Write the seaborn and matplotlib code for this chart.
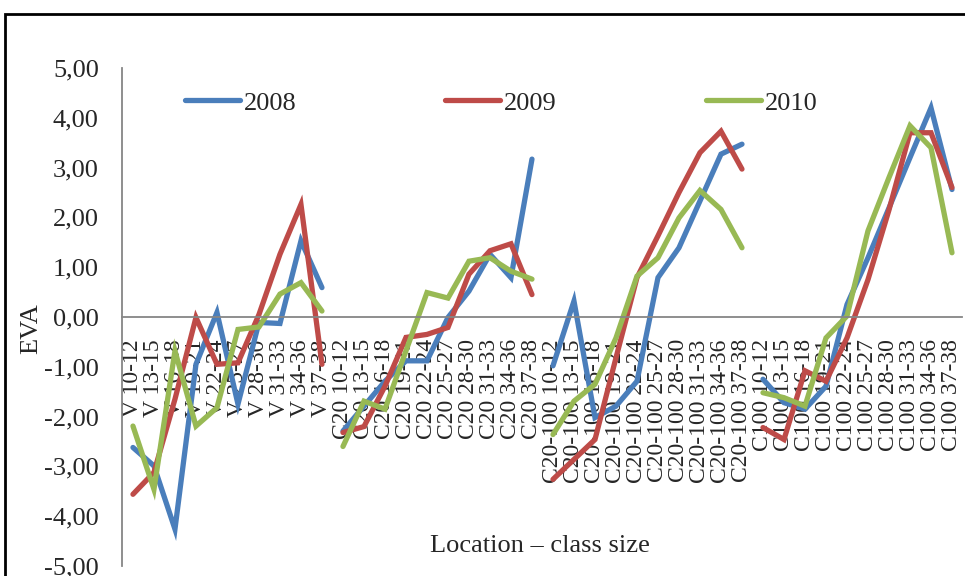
import numpy as np
import pandas as pd
import matplotlib
matplotlib.use("Agg")
import matplotlib.pyplot as plt
from matplotlib.patches import Rectangle
from matplotlib.ticker import FuncFormatter, MultipleLocator
import seaborn as sns

# categories: location x class size
locations = ["V", "C20", "C20-100", "C100"]
class_sizes = ["10-12", "13-15", "16-18", "19-21", "22-24",
               "25-27", "28-30", "31-33", "34-36", "37-38"]
years = ["2008", "2009", "2010"]

# EVA values (one row per location)
eva_2008 = [-2.62, -2.99, -4.26, -0.95, 0.09, -1.75, -0.11, -0.13, 1.53, 0.59,
            -2.29, -1.79, -1.29, -0.88, -0.88, -0.01, 0.52, 1.26, 0.79, 3.17,
            -0.98, 0.32, -2.02, -1.79, -1.29, 0.79, 1.39, 2.33, 3.27, 3.47,
            -1.25, -1.72, -1.85, -1.39, 0.25, 1.19, 2.19, 3.20, 4.20, 2.56]
eva_2009 = [-3.56, -3.12, -1.65, -0.01, -0.95, -0.92, 0.05, 1.26, 2.26, -0.95,
            -2.32, -2.20, -1.39, -0.41, -0.35, -0.21, 0.86, 1.33, 1.47, 0.45,
            -3.26, -2.86, -2.46, -0.82, 0.79, 1.63, 2.50, 3.30, 3.73, 2.97,
            -2.22, -2.46, -1.08, -1.29, -0.42, 0.75, 2.15, 3.70, 3.70, 2.60]
eva_2010 = [-2.19, -3.46, -0.68, -2.19, -1.82, -0.25, -0.20, 0.46, 0.69, 0.12,
            -2.60, -1.69, -1.85, -0.68, 0.49, 0.38, 1.12, 1.19, 0.92, 0.76,
            -2.36, -1.69, -1.35, -0.42, 0.82, 1.19, 1.99, 2.54, 2.16, 1.39,
            -1.52, -1.62, -1.79, -0.42, 0.02, 1.73, 2.80, 3.84, 3.40, 1.29]

colors = ["#4A7EBB", "#BE4B48", "#98B954"]

tick_labels = [f"{loc} {cs}" for loc in locations for cs in class_sizes]

rows = []
for year, vals in zip(years, [eva_2008, eva_2009, eva_2010]):
    for i, v in enumerate(vals):
        rows.append({"pos": i, "eva": v, "year": year,
                     "group": locations[i // len(class_sizes)]})
df = pd.DataFrame(rows)

sns.set_style("white")
plt.rcParams["font.family"] = ["Liberation Serif", "DejaVu Serif"]

fig = plt.figure(figsize=(9.65, 5.76), dpi=100)
ax = fig.add_axes([0.1269, 0.01736, 0.8705, 0.8646])

sns.lineplot(data=df, x="pos", y="eva", hue="year", units="group",
             estimator=None, palette=colors, linewidth=3.8, ax=ax,
             solid_capstyle="round", solid_joinstyle="miter")

ax.set_xlim(-0.5, len(tick_labels) - 0.5)
ax.set_ylim(-5, 5)
ax.yaxis.set_major_locator(MultipleLocator(1))
ax.yaxis.set_major_formatter(FuncFormatter(lambda v, p: f"{v:.2f}".replace(".", ",")))
ax.set_xticks(range(len(tick_labels)))
ax.set_xticklabels(tick_labels)

for side in ["top", "right"]:
    ax.spines[side].set_visible(False)
ax.spines["bottom"].set_position(("data", 0))
for side in ["left", "bottom"]:
    ax.spines[side].set_color("#868686")
    ax.spines[side].set_linewidth(1.3)

ax.tick_params(axis="x", length=0, pad=16, labelsize=17, rotation=90)
ax.tick_params(axis="y", length=0, pad=17, labelsize=19)

ax.set_xlabel("Location – class size", fontsize=19)
ax.xaxis.set_label_coords(0.497, 0.062)
ax.set_ylabel("EVA", fontsize=19)
ax.yaxis.set_label_coords(-0.096, 0.476)

handles, labels = ax.get_legend_handles_labels()
ax.legend(handles, labels, loc="center left", bbox_to_anchor=(185 / 965, 1 - 103 / 576),
          bbox_transform=fig.transFigure, ncol=3, frameon=False, fontsize=19,
          handlelength=2.08, handletextpad=0.15, columnspacing=5.64,
          borderpad=0, borderaxespad=0)

# outer chart border (cut off on the right and bottom)
fig.patches.append(Rectangle((5 / 965, -0.1), 1.1, 0.1 + 1 - 14 / 576,
                             transform=fig.transFigure, fill=False,
                             edgecolor="black", linewidth=2))

fig.savefig("out.png", dpi=100)
